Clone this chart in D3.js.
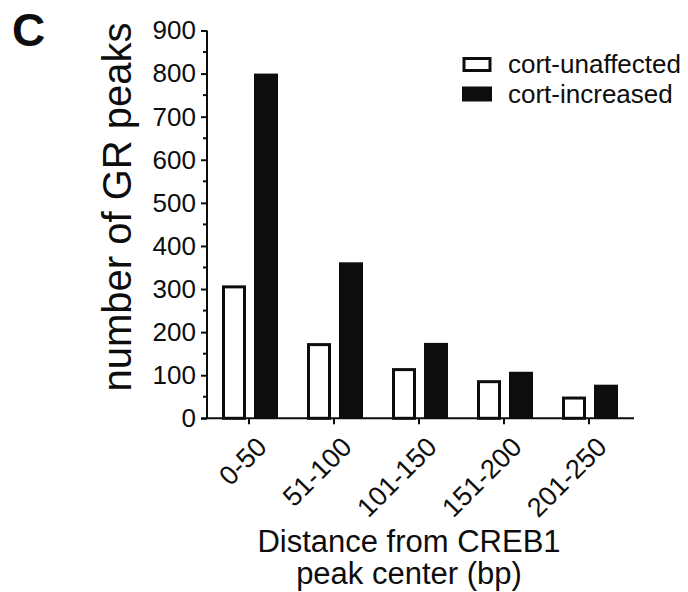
<!DOCTYPE html>
<html>
<head>
<meta charset="utf-8">
<script src="https://cdn.jsdelivr.net/npm/d3@7"></script>
<style>
  html, body { margin: 0; padding: 0; background: #fff; }
  svg { display: block; font-family: "Liberation Sans", Arial, sans-serif; }
</style>
</head>
<body>
<svg id="chart" width="688" height="592"></svg>
<script>
// Distance bins of GR peaks relative to the CREB1 peak center
const categories = ["0-50", "51-100", "101-150", "151-200", "201-250"];
const seriesNames = ["cort-unaffected", "cort-increased"];
const unaffected = [305, 171, 113, 85, 47];
const increased = [800, 362, 175, 108, 78];
const yTicks = [0, 100, 200, 300, 400, 500, 600, 700, 800, 900];
const yMinorTicks = [50, 150, 250, 350, 450, 550, 650, 750, 850];

const svg = d3.select("#chart");
const ink = "#0d0d0d";

const y = d3.scaleLinear().domain([0, 900]).range([418.3, 30.5]);
const x = d3.scaleBand().domain(categories).range([206.5, 631.5]);
const xSub = d3.scaleBand().domain(seriesNames).range([15.5, 71.5]).paddingInner(0.25);

const rows = categories.map((c, i) => ({ cat: c, values: [unaffected[i], increased[i]] }));

// Bars
const groups = svg.append("g").selectAll("g").data(rows).join("g")
  .attr("transform", d => `translate(${x(d.cat)},0)`);

groups.append("rect")
  .attr("x", xSub(seriesNames[0]) + 1.5)
  .attr("width", xSub.bandwidth() - 3)
  .attr("y", d => y(d.values[0]))
  .attr("height", d => y(0) - y(d.values[0]))
  .attr("fill", "#fff").attr("stroke", ink).attr("stroke-width", 3);

groups.append("rect")
  .attr("x", xSub(seriesNames[1]))
  .attr("width", xSub.bandwidth())
  .attr("y", d => y(d.values[1]))
  .attr("height", d => y(0) - y(d.values[1]))
  .attr("fill", ink);

// Y axis
const yAxis = svg.append("g").attr("transform", "translate(207,0)")
  .call(d3.axisLeft(y).tickValues(yTicks).tickFormat(d3.format("d")).tickSize(6).tickPadding(5));
yAxis.select(".domain").attr("d", `M0,${y(900)}V${y(0)}`);
yAxis.selectAll("line, path").attr("stroke", ink).attr("stroke-width", 2);
yAxis.selectAll("text").attr("font-size", 26).attr("fill", ink).attr("font-family", "Liberation Sans, Arial, sans-serif");

svg.append("g").selectAll("line").data(yMinorTicks).join("line")
  .attr("x1", 203).attr("x2", 207)
  .attr("y1", d => y(d)).attr("y2", d => y(d))
  .attr("stroke", ink).attr("stroke-width", 2);

// X axis
const xAxis = svg.append("g").attr("transform", `translate(0,${y(0)})`)
  .call(d3.axisBottom(x).tickSize(6).tickFormat(""));
xAxis.select(".domain").attr("d", "M201,0H634");
xAxis.selectAll("line, path").attr("stroke", ink).attr("stroke-width", 2);

svg.append("g").selectAll("text").data(categories).join("text")
  .attr("transform", d => `translate(${x(d) + x.bandwidth() / 2 + 6},${y(0) + 17}) rotate(-45)`)
  .attr("text-anchor", "end")
  .attr("dy", "0.7em")
  .attr("font-size", 27)
  .attr("fill", ink)
  .text(d => d);

// Axis titles
svg.append("text")
  .attr("transform", "translate(131,207) rotate(-90)")
  .attr("text-anchor", "middle")
  .attr("font-size", 40)
  .attr("fill", ink)
  .text("number of GR peaks");

const xTitle = svg.append("text")
  .attr("text-anchor", "middle")
  .attr("font-size", 31)
  .attr("fill", ink);
xTitle.append("tspan").attr("x", 409).attr("y", 552).text("Distance from CREB1");
xTitle.append("tspan").attr("x", 409).attr("y", 584).text("peak center (bp)");

// Panel letter
svg.append("text")
  .attr("x", 12).attr("y", 46)
  .attr("font-size", 46).attr("font-weight", "bold")
  .attr("fill", ink)
  .text("C");

// Legend
const legend = svg.append("g");
legend.append("rect").attr("x", 464).attr("y", 58.5).attr("width", 26).attr("height", 12)
  .attr("fill", "#fff").attr("stroke", ink).attr("stroke-width", 3);
legend.append("rect").attr("x", 462).attr("y", 86.5).attr("width", 30).attr("height", 15)
  .attr("fill", ink);
legend.selectAll("text").data(seriesNames).join("text")
  .attr("x", 508).attr("y", (d, i) => 73 + i * 29.5)
  .attr("font-size", 26)
  .attr("fill", ink)
  .text(d => d);
</script>
</body>
</html>
